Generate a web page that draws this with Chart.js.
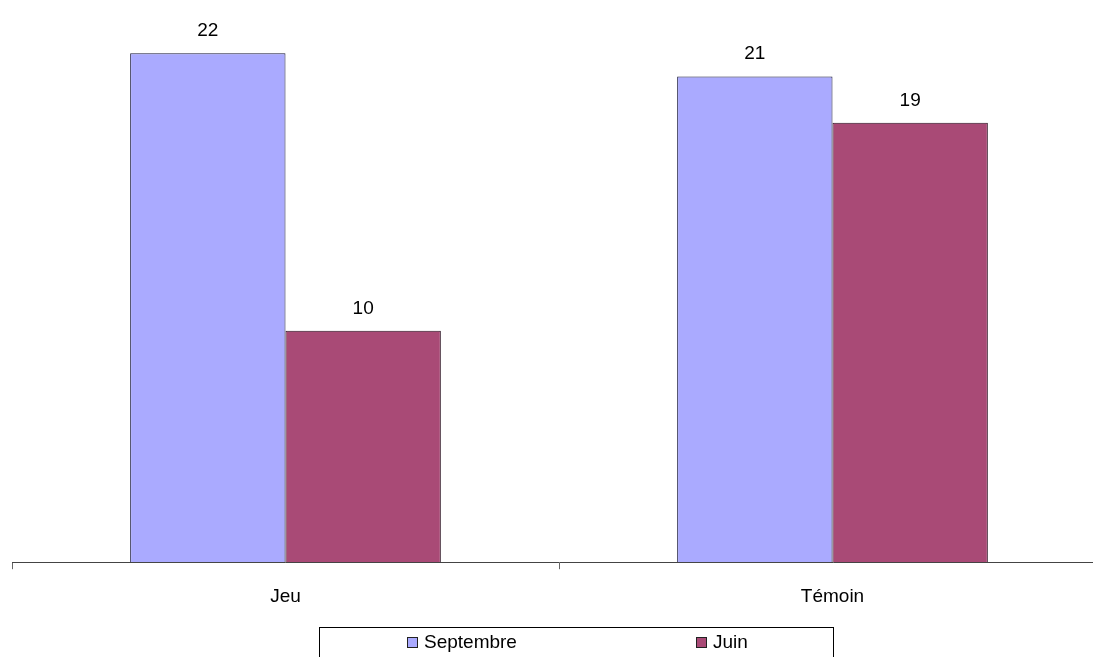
<!DOCTYPE html>
<html>
<head>
<meta charset="utf-8">
<script src="https://cdn.jsdelivr.net/npm/chart.js@4/dist/chart.umd.min.js"></script>
<style>
  html, body { margin: 0; padding: 0; background: #fff; overflow: hidden; }
  #wrap { width: 1110px; height: 657px; }
</style>
</head>
<body>
<div id="wrap"><canvas id="c" width="1110" height="657"></canvas></div>
<script>
const categories = ['Jeu', 'Témoin'];
const seriesNames = ['Septembre', 'Juin'];
const septembre = [22, 21];
const juin = [10, 19];

const FONT = '"Liberation Sans", Arial, sans-serif';

// Value labels above each bar
const valueLabels = {
  id: 'valueLabels',
  afterDatasetsDraw(chart) {
    const ctx = chart.ctx;
    ctx.save();
    ctx.font = '19px ' + FONT;
    ctx.fillStyle = '#000';
    ctx.textAlign = 'center';
    ctx.textBaseline = 'alphabetic';
    chart.data.datasets.forEach((ds, i) => {
      chart.getDatasetMeta(i).data.forEach((bar, j) => {
        ctx.fillText(String(ds.data[j]), bar.x, bar.y - 17);
      });
    });
    ctx.restore();
  }
};

// Boxed legend below the axis
const boxLegend = {
  id: 'boxLegend',
  afterDraw(chart) {
    const ctx = chart.ctx;
    const left = 319.5, right = 833.5, top = 627.5, bottom = 680;
    ctx.save();
    ctx.strokeStyle = '#000';
    ctx.lineWidth = 1;
    ctx.strokeRect(left, top, right - left, bottom - top);
    const xs = [407, 696];
    const sqTop = 637;
    ctx.font = '19px ' + FONT;
    ctx.textBaseline = 'alphabetic';
    ctx.textAlign = 'left';
    chart.data.datasets.forEach((ds, i) => {
      ctx.fillStyle = ds.backgroundColor;
      ctx.fillRect(xs[i] + 0.5, sqTop + 0.5, 10, 10);
      ctx.strokeStyle = '#222';
      ctx.strokeRect(xs[i] + 0.5, sqTop + 0.5, 10, 10);
      ctx.fillStyle = '#000';
      ctx.fillText(ds.label, xs[i] + 17, 648);
    });
    ctx.restore();
  }
};

new Chart(document.getElementById('c'), {
  type: 'bar',
  data: {
    labels: categories,
    datasets: [
      { label: seriesNames[0], data: septembre, backgroundColor: '#AAAAFF', borderColor: '#1a1a3a', borderWidth: 1 },
      { label: seriesNames[1], data: juin, backgroundColor: '#A94A76', borderColor: '#2a1020', borderWidth: 1 }
    ]
  },
  options: {
    responsive: false,
    animation: false,
    layout: { padding: { left: 12, right: 4, top: 7, bottom: 33 } },
    datasets: { bar: { barPercentage: 1, categoryPercentage: 0.568 } },
    plugins: { legend: { display: false }, tooltip: { enabled: false } },
    scales: {
      x: {
        offset: true,
        grid: { offset: true, drawOnChartArea: false, color: '#666', tickLength: 7, tickWidth: 1 },
        border: { display: true, color: '#444', width: 1 },
        ticks: { color: '#000', font: { family: FONT, size: 19 }, padding: 16 }
      },
      y: {
        display: false,
        min: 0,
        max: 24
      }
    }
  },
  plugins: [valueLabels, boxLegend]
});
</script>
</body>
</html>
